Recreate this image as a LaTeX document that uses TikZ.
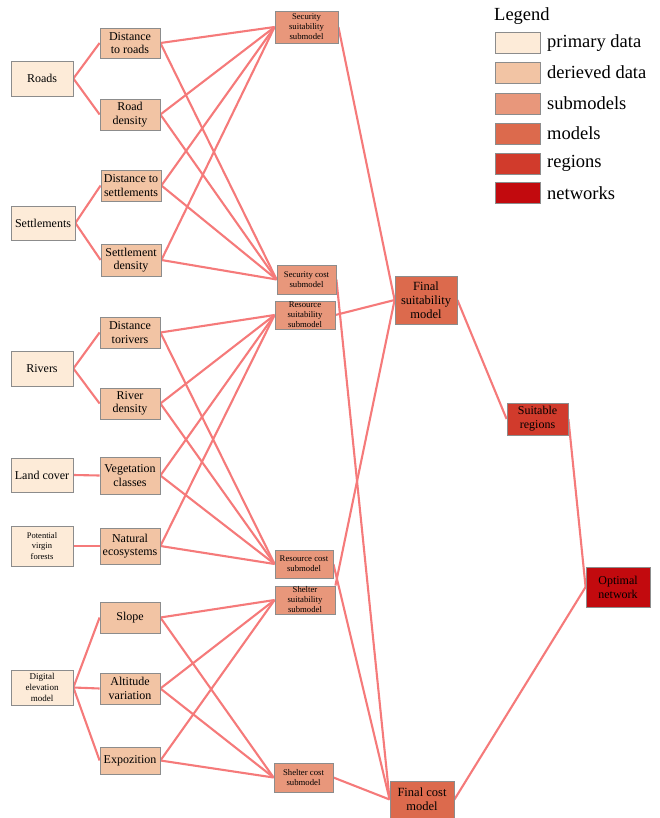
\documentclass[tikz,border=0pt]{standalone}
\usepackage{fontspec}
\setmainfont{Liberation Serif}
\usetikzlibrary{backgrounds}
\definecolor{cprim}{HTML}{FDEBD8}
\definecolor{cderi}{HTML}{F2C4A4}
\definecolor{csub}{HTML}{E8977B}
\definecolor{cmod}{HTML}{DC6A4D}
\definecolor{creg}{HTML}{D13B2C}
\definecolor{cnet}{HTML}{C20A0E}
\definecolor{cedge}{HTML}{F57A7A}
\definecolor{cborder}{HTML}{8C8C8C}
\tikzset{
  box/.style={draw=cborder, line width=0.8pt, inner sep=0pt, align=center, text=black},
  prim/.style={box, fill=cprim, minimum width=62pt, font=\fontsize{12}{13.5}\selectfont},
  deri/.style={box, fill=cderi, minimum width=60pt, font=\fontsize{12}{13.5}\selectfont},
  subm/.style={box, fill=csub, font=\fontsize{8.7}{10}\selectfont},
  modl/.style={box, fill=cmod, font=\fontsize{12.5}{14}\selectfont},
  regn/.style={box, fill=creg, font=\fontsize{12}{14}\selectfont},
  netw/.style={box, fill=cnet, font=\fontsize{12}{14}\selectfont},
  legbox/.style={draw=cborder, line width=0.8pt, minimum width=45pt, minimum height=21pt, inner sep=0pt},
  leglabel/.style={anchor=west, inner sep=0pt, font=\fontsize{18.5}{20}\selectfont},
  link/.style={draw=cedge, line width=2.1pt}
}
\begin{document}
\begin{tikzpicture}[x=1pt,y=-1pt]
\useasboundingbox (0,0) rectangle (659,818);
% primary data
\node[prim, minimum height=35pt] (roads) at (42,78.5) {Roads};
\node[prim, minimum width=64pt, minimum height=34pt] (settl) at (43,223) {Settlements};
\node[prim, minimum height=35pt] (rivers) at (42,368.5) {Rivers};
\node[prim, minimum height=34pt] (land) at (42,475) {Land cover};
\node[prim, minimum height=40pt, font=\fontsize{8.5}{10.5}\selectfont] (pvf) at (42,546) {Potential\\virgin\\forests};
\node[prim, minimum height=35pt, font=\fontsize{9}{11}\selectfont] (dem) at (42,687.5) {Digital\\elevation\\model};
% derived data
\node[deri, minimum height=30pt] (dtr) at (130,43) {Distance\\to roads};
\node[deri, minimum height=31pt] (rd) at (130,114.5) {Road\\density};
\node[deri, minimum height=31pt] (dts) at (131,185.5) {Distance to\\settlements};
\node[deri, minimum height=32pt] (sd) at (131,260) {Settlement\\density};
\node[deri, minimum height=31pt] (dtrv) at (130,332.5) {Distance\\torivers};
\node[deri, minimum height=31pt] (rvd) at (130,403.5) {River\\density};
\node[deri, minimum height=37pt] (veg) at (130,475.5) {Vegetation\\classes};
\node[deri, minimum height=36pt] (nat) at (130,546) {Natural\\ecosystems};
\node[deri, minimum height=31pt] (slope) at (130,617.5) {Slope};
\node[deri, minimum height=31pt] (alt) at (130,688.5) {Altitude\\variation};
\node[deri, minimum height=27pt] (expo) at (130,760.5) {Expozition};
% submodels
\node[subm, minimum width=63pt, minimum height=32pt] (ssub) at (306.5,27) {Security\\suitability\\submodel};
\node[subm, minimum width=59pt, minimum height=29pt] (scost) at (306.5,279.5) {Security cost\\submodel};
\node[subm, minimum width=60pt, minimum height=28pt] (rsub) at (305,315) {Resource\\suitability\\submodel};
\node[subm, minimum width=58pt, minimum height=28pt] (rcost) at (304,564) {Resource cost\\submodel};
\node[subm, minimum width=60pt, minimum height=28pt] (shsub) at (305,600) {Shelter\\suitability\\submodel};
\node[subm, minimum width=59pt, minimum height=29pt] (shcost) at (303.5,777.5) {Shelter cost\\submodel};
% models
\node[modl, minimum width=62pt, minimum height=48pt] (fsm) at (426,300) {Final\\suitability\\model};
\node[modl, minimum width=64pt, minimum height=37pt] (fcm) at (422,799.5) {Final cost\\model};
\node[regn, minimum width=61pt, minimum height=32pt] (sr) at (537.5,419) {Suitable\\regions};
\node[netw, minimum width=64pt, minimum height=40pt] (on) at (618,587) {Optimal\\network};
% legend
\node[anchor=west, inner sep=0pt, font=\fontsize{18.5}{20}\selectfont] (legtitle) at (494,16) {Legend};
\node[legbox, fill=cprim] (l1) at (517.5,43) {};
\node[legbox, fill=cderi] (l2) at (517.5,72.5) {};
\node[legbox, fill=csub] (l3) at (517.5,103.5) {};
\node[legbox, fill=cmod] (l4) at (517.5,133.5) {};
\node[legbox, fill=creg] (l5) at (517.5,163.5) {};
\node[legbox, fill=cnet] (l6) at (517.5,193) {};
\node[leglabel] (t1) at (547,43) {primary data};
\node[leglabel] (t2) at (547,72.5) {derieved data};
\node[leglabel] (t3) at (547,103.5) {submodels};
\node[leglabel] (t4) at (547,133.5) {models};
\node[leglabel] (t5) at (547,163.5) {regions};
\node[leglabel] (t6) at (547,193) {networks};
% connectors
\begin{pgfonlayer}{background}
\foreach \a/\b in {roads/dtr, roads/rd, settl/dts, settl/sd, rivers/dtrv, rivers/rvd,
  land/veg, pvf/nat, dem/slope, dem/alt, dem/expo,
  dtr/ssub, rd/ssub, dts/ssub, sd/ssub, dtr/scost, rd/scost, dts/scost, sd/scost,
  dtrv/rsub, rvd/rsub, veg/rsub, nat/rsub, dtrv/rcost, rvd/rcost, veg/rcost, nat/rcost,
  slope/shsub, alt/shsub, expo/shsub, slope/shcost, alt/shcost, expo/shcost,
  ssub/fsm, rsub/fsm, scost/fcm, rcost/fcm, shcost/fcm, fsm/sr, sr/on, fcm/on}
  {\draw[link] (\a.east) -- (\b.west);}
\draw[link] (shsub.north east) -- (fsm.west);
\end{pgfonlayer}
\end{tikzpicture}
\end{document}
